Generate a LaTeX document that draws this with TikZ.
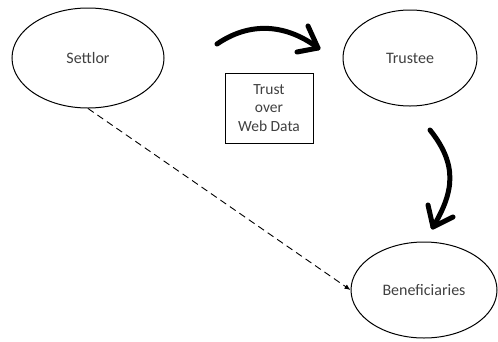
\documentclass[tikz,border=0pt]{standalone}
\usepackage{fontspec}
\setmainfont{Carlito}
\usetikzlibrary{arrows.meta,shapes.geometric,calc}
\definecolor{txtgrey}{HTML}{404040}
\begin{document}
\begin{tikzpicture}[x=1pt,y=-1pt,
  party/.style={draw,ellipse,line width=1pt,minimum width=#1,inner sep=0pt,text=txtgrey,font=\fontsize{16}{19}\selectfont},
  bigstroke/.style={line width=5pt,line cap=round,line join=round},
  infobox/.style={draw,line width=0.6pt,align=center,minimum width=88pt,minimum height=70pt,text=txtgrey,font=\fontsize{15.5}{18.5}\selectfont},
  dasharrow/.style={line width=0.9pt,dash pattern=on 7pt off 4.5pt,-{Latex[length=6pt,width=5pt]}}]
\useasboundingbox (0,0) rectangle (498,341);
\node[party=152pt,minimum height=100pt] (settlor) at (88,58) {Settlor};
\node[party=134pt,minimum height=96pt] (trustee) at (410,58) {Trustee};
\node[party=146pt,minimum height=96pt] (benef) at (424,290) {Beneficiaries};
\node[infobox] (box) at (269,108) {Trust\\over\\Web Data};
\coordinate (a1) at (217,44);
\coordinate (a2) at (318,48);
\coordinate (b1) at (430,130);
\coordinate (b2) at (433,227);
\draw[bigstroke] (a1) .. controls (255,18) and (292,28) .. (a2);
\draw[bigstroke] ($(a2)+(-10,-22)$) -- (a2) -- ($(a2)+(-21,4)$);
\draw[bigstroke] (b1) .. controls (458,165) and (454,192) .. (b2);
\draw[bigstroke] ($(b2)+(-5,-22)$) -- (b2) -- ($(b2)+(20,-10)$);
\draw[dasharrow] (settlor.south) -- (benef.west);
\end{tikzpicture}
\end{document}
